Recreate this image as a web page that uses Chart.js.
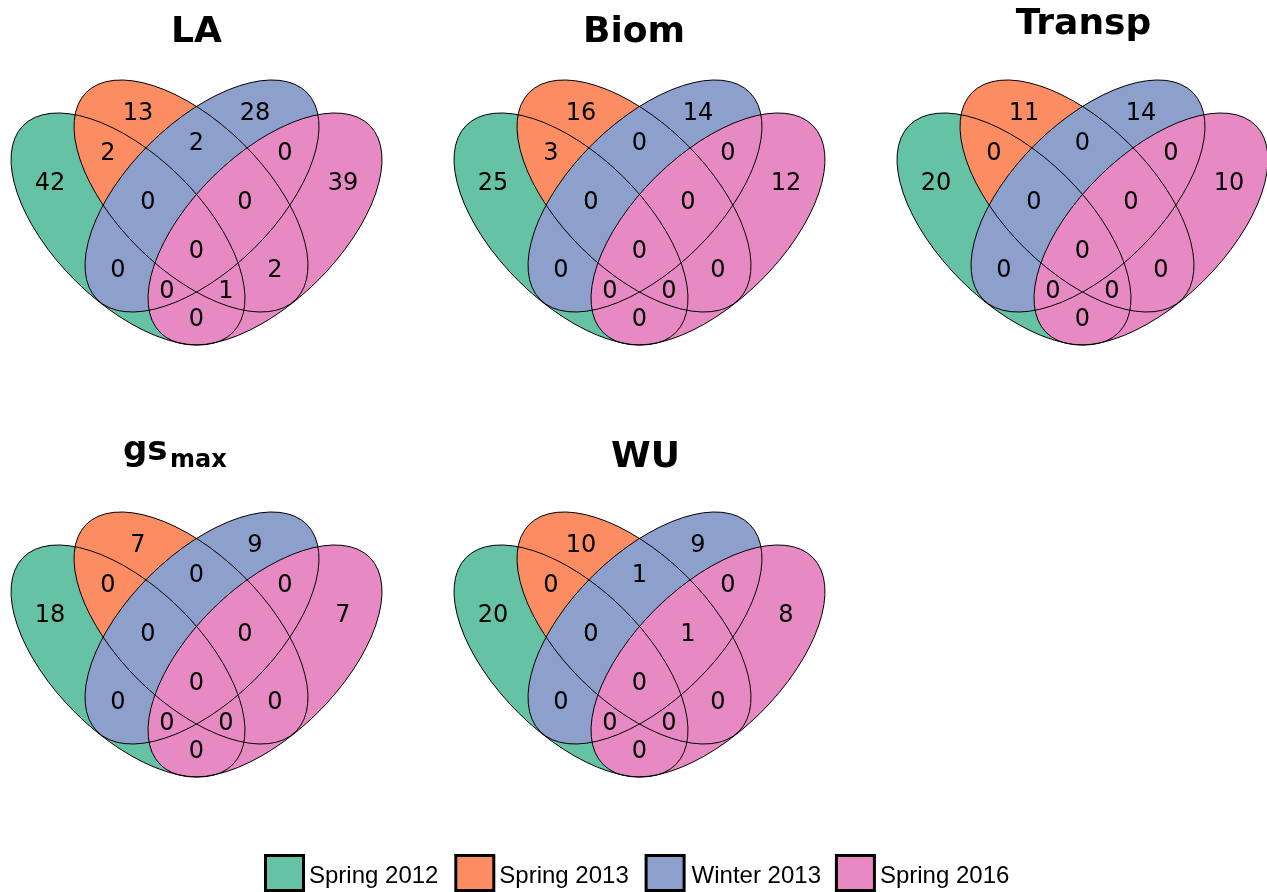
<!DOCTYPE html>
<html>
<head>
<meta charset="utf-8">
<title>Venn diagrams</title>
<script src="https://cdn.jsdelivr.net/npm/chart.js"></script>
<style>
  html, body { margin: 0; padding: 0; background: #fff; }
  #wrap { width: 1267px; height: 892px; }
</style>
</head>
<body>
<div id="wrap"><canvas id="venn" width="1267" height="892"></canvas></div>
<script>
// Sets, in legend order
const setNames = ['Spring 2012', 'Spring 2013', 'Winter 2013', 'Spring 2016'];
const setColors = ['#66c2a5', '#fc8d62', '#8da0cb', '#e78ac3'];

// Region order: G, O, B, P, GO, OB, BP, GOB, OBP, GB, GOBP, OP, GBP, GOP, GP
// (G = Spring 2012, O = Spring 2013, B = Winter 2013, P = Spring 2016)
const panelTitles = ['LA', 'Biom', 'Transp', 'gs_max', 'WU'];
const countsLA     = [42, 13, 28, 39, 2, 2, 0, 0, 0, 0, 0, 2, 0, 1, 0];
const countsBiom   = [25, 16, 14, 12, 3, 0, 0, 0, 0, 0, 0, 0, 0, 0, 0];
const countsTransp = [20, 11, 14, 10, 0, 0, 0, 0, 0, 0, 0, 0, 0, 0, 0];
const countsGs     = [18, 7, 9, 7, 0, 0, 0, 0, 0, 0, 0, 0, 0, 0, 0];
const countsWU     = [20, 10, 9, 8, 0, 1, 0, 0, 1, 0, 0, 0, 0, 0, 0];
const panelCounts = [countsLA, countsBiom, countsTransp, countsGs, countsWU];

// ---- layout (pixels, chart units are 1:1 with the canvas) ----
const W = 1267, H = 892;
const panelOrigin = [[0, 0], [443, 0], [886, 0], [0, 432], [443, 432]];

// label anchor of each region inside a panel
const regionPos = [
  [50, 184], [138, 114], [255, 114], [343, 184],
  [108, 154], [196.5, 144], [285, 154],
  [148, 203], [245, 203],
  [118, 271], [196.5, 252], [275, 271],
  [167, 292], [226, 292], [196.5, 320]
];

// the four ellipses of a panel: centre, rotation (deg)
const ellipses = [
  { cx: 128, cy: 229, rot: 44.6 },
  { cx: 191, cy: 196, rot: 44.6 },
  { cx: 202, cy: 196, rot: -44.6 },
  { cx: 265, cy: 229, rot: -44.6 }
];
const semiA = 147.3, semiB = 73.8;

const titleFont = 'bold 36px "DejaVu Sans"';
const titlePos = [
  [196.5, 42], [634, 42], [1083.5, 34], null, [645.5, 467]
];

const datasets = panelCounts.map((counts, p) => ({
  label: panelTitles[p],
  data: counts.map((c, i) => ({
    x: panelOrigin[p][0] + regionPos[i][0],
    y: panelOrigin[p][1] + regionPos[i][1],
    count: c
  })),
  pointRadius: 0,
  pointHoverRadius: 0,
  showLine: false
}));

// ellipses under the counts
const ellipsePlugin = {
  id: 'ellipses',
  beforeDatasetsDraw(chart) {
    const { ctx, scales: { x, y } } = chart;
    const rx = x.getPixelForValue(semiA) - x.getPixelForValue(0);
    const ry = y.getPixelForValue(semiB) - y.getPixelForValue(0);
    ctx.save();
    panelOrigin.forEach(([ox, oy]) => {
      const path = e => {
        ctx.beginPath();
        ctx.ellipse(x.getPixelForValue(ox + e.cx), y.getPixelForValue(oy + e.cy),
          rx, Math.abs(ry), e.rot * Math.PI / 180, 0, Math.PI * 2);
      };
      ellipses.forEach((e, i) => {
        path(e);
        ctx.fillStyle = setColors[i];
        ctx.fill();
      });
      ctx.strokeStyle = '#000';
      ctx.lineWidth = 1;
      ellipses.forEach(e => { path(e); ctx.stroke(); });
    });
    ctx.restore();
  }
};

// region counts, titles and legend
const textPlugin = {
  id: 'texts',
  afterDatasetsDraw(chart) {
    const { ctx, scales: { x, y } } = chart;
    ctx.save();
    ctx.fillStyle = '#000';
    ctx.font = '24px "DejaVu Sans"';
    ctx.textAlign = 'center';
    ctx.textBaseline = 'middle';
    chart.data.datasets.forEach((ds, d) => {
      chart.getDatasetMeta(d).data.forEach((pt, i) => {
        ctx.fillText(String(ds.data[i].count), pt.x, pt.y);
      });
    });

    ctx.textBaseline = 'alphabetic';
    ctx.font = titleFont;
    panelTitles.forEach((t, p) => {
      if (!titlePos[p]) return;
      ctx.fillText(t, x.getPixelForValue(titlePos[p][0]), y.getPixelForValue(titlePos[p][1]));
    });
    // gs with subscript max
    ctx.textAlign = 'left';
    ctx.font = 'bold 34px "DejaVu Sans"';
    ctx.fillText('gs', x.getPixelForValue(123), y.getPixelForValue(460));
    ctx.font = 'bold 24px "DejaVu Sans"';
    ctx.fillText('max', x.getPixelForValue(170), y.getPixelForValue(467));

    // legend
    ctx.font = '24px "Liberation Sans"';
    setNames.forEach((name, i) => {
      const bx = x.getPixelForValue(264 + i * 190.3);
      ctx.fillStyle = setColors[i];
      ctx.fillRect(bx + 1.5, y.getPixelForValue(855.5), 38, 35);
      ctx.strokeStyle = '#000';
      ctx.lineWidth = 3;
      ctx.strokeRect(bx + 1.5, y.getPixelForValue(855.5), 38, 35);
      ctx.fillStyle = '#000';
      ctx.fillText(name, bx + 45 + (i === 2 ? 2 : 0), y.getPixelForValue(883));
    });
    ctx.restore();
  }
};

new Chart(document.getElementById('venn'), {
  type: 'scatter',
  data: { datasets },
  options: {
    responsive: false,
    animation: false,
    events: [],
    layout: { padding: 0 },
    plugins: { legend: { display: false }, tooltip: { enabled: false } },
    scales: {
      x: { type: 'linear', min: 0, max: W, display: false },
      y: { type: 'linear', min: 0, max: H, reverse: true, display: false }
    }
  },
  plugins: [ellipsePlugin, textPlugin]
});
</script>
</body>
</html>
